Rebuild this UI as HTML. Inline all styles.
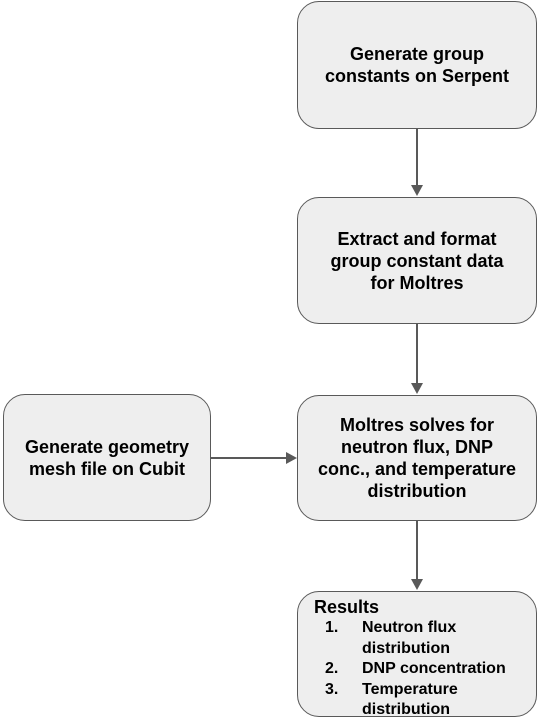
<!DOCTYPE html>
<html><head><style>
body{margin:0;width:539px;height:719px;background:#fff;position:relative;overflow:hidden;font-family:"Liberation Sans",Arial,sans-serif;}
.b{position:absolute;box-sizing:border-box;background:#eeeeee;border:1.3px solid #595959;border-radius:22px;display:flex;align-items:center;justify-content:center;text-align:center;font-weight:bold;font-size:18px;line-height:22px;color:#000;}
</style></head><body>
<svg width="539" height="719" style="position:absolute;left:0;top:0">
<g stroke="#595959" stroke-width="2" fill="#595959">
<line x1="417" y1="128" x2="417" y2="186"/><polygon points="411,185 423,185 417,196" stroke="none"/>
<line x1="417" y1="324" x2="417" y2="384"/><polygon points="411,383 423,383 417,394" stroke="none"/>
<line x1="417" y1="521" x2="417" y2="580"/><polygon points="411,579 423,579 417,590" stroke="none"/>
<line x1="211" y1="458" x2="287" y2="458"/><polygon points="286,452 286,464 297,458" stroke="none"/>
</g></svg>
<div class="b" style="left:297px;top:1px;width:240px;height:128px">Generate group<br>constants on Serpent</div>
<div class="b" style="left:297px;top:197px;width:240px;height:127px">Extract and format<br>group constant data<br>for Moltres</div>
<div class="b" style="left:297px;top:395px;width:240px;height:126px">Moltres solves for<br>neutron flux, DNP<br>conc., and temperature<br>distribution</div>
<div class="b" style="left:3px;top:394px;width:208px;height:127px">Generate geometry<br>mesh file on Cubit</div>
<div class="b" style="left:297px;top:591px;width:240px;height:126px;display:block;text-align:left;padding:4px 0 0 16px;font-size:16px;line-height:20.5px">
<div style="font-size:18px;line-height:22px">Results</div>
<div style="position:relative;padding-left:48px"><span style="position:absolute;left:11px">1.</span>Neutron flux<br>distribution</div>
<div style="position:relative;padding-left:48px"><span style="position:absolute;left:11px">2.</span>DNP concentration</div>
<div style="position:relative;padding-left:48px"><span style="position:absolute;left:11px">3.</span>Temperature<br>distribution</div>
</div>
</body></html>
